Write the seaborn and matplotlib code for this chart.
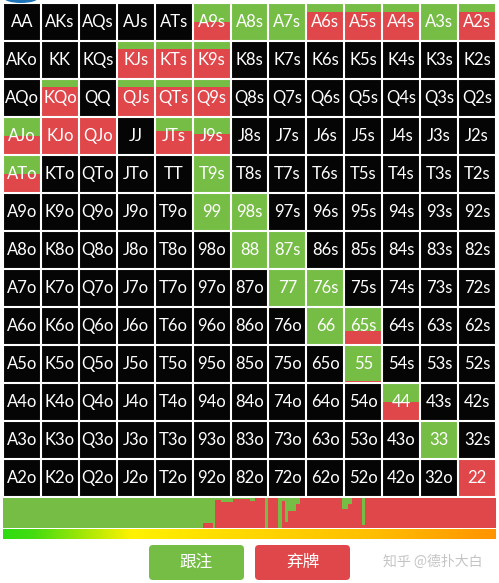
"""
Preflop calling range chart (call / fold split per hand)
"""

import numpy as np
import matplotlib
matplotlib.use('Agg')
import matplotlib.pyplot as plt
from matplotlib.colors import ListedColormap, LinearSegmentedColormap
from matplotlib.patches import FancyBboxPatch, Ellipse
import seaborn as sns

# ---- data ----
ranks = ['A', 'K', 'Q', 'J', 'T', '9', '8', '7', '6', '5', '4', '3', '2']

# call frequency per hand (None = not in range)
N = None
call_freq = [
    [N, N, N, N, N, 0.49, 1.0, 1.0, 0.23, 0.23, 0.23, 1.0, 0.23],
    [N, N, N, 0.22, 0.22, 0.22, N, N, N, N, N, N, N],
    [N, 0.20, N, 0.21, 0.21, 0.21, N, N, N, N, N, N, N],
    [0.50, 0.0, 0.0, N, 0.36, 0.45, N, N, N, N, N, N, N],
    [0.50, N, N, N, N, 1.0, N, N, N, N, N, N, N],
    [N, N, N, N, N, 1.0, 1.0, N, N, N, N, N, N],
    [N, N, N, N, N, N, 1.0, 1.0, N, N, N, N, N],
    [N, N, N, N, N, N, N, 1.0, 1.0, N, N, N, N],
    [N, N, N, N, N, N, N, N, 1.0, 0.64, N, N, N],
    [N, N, N, N, N, N, N, N, N, 0.95, N, N, N],
    [N, N, N, N, N, N, N, N, N, N, 0.50, N, N],
    [N, N, N, N, N, N, N, N, N, N, N, 1.0, N],
    [N, N, N, N, N, N, N, N, N, N, N, N, 0.0],
]

# strategy strip: segment edges in % of combos and call frequency of each segment
strip_edges = [0, 40.6, 42.6, 43.0, 44.2, 46.7, 50.1, 51.1, 53.1, 53.7, 55.8, 56.6,
               57.2, 57.8, 59.4, 60.2, 68.8, 70.0, 70.8, 72.8, 73.4, 100]
strip_call = [1.0, 0.83, 1.0, 0.05, 0.12, 0.02, 0.1, 0.0, 1.0, 0.0, 1.0, 0.1,
              0.8, 0.42, 0.2, 0.0, 0.38, 0.2, 0.0, 0.9, 0.0]

button_labels = ['跟注', '弃牌']
watermark = '知乎 @德扑大白'

GREEN = '#76bd46'
RED = '#e0474b'

sns.set_style('white')
plt.rcParams['font.family'] = ['Lato', 'Noto Sans CJK SC', 'DejaVu Sans']

# hand labels
labels = []
for i, r1 in enumerate(ranks):
    row = []
    for j, r2 in enumerate(ranks):
        if i == j:
            row.append(r1 + r2)
        elif j > i:
            row.append(r1 + r2 + 's')
        else:
            row.append(r2 + r1 + 'o')
    labels.append(row)
labels = np.array(labels)

in_range = np.array([[0 if v is None else 1 for v in row] for row in call_freq])

fig = plt.figure(figsize=(4.99, 5.83), dpi=100)
W, H = 499, 583

# ---- hand grid ----
ax = fig.add_axes([3 / W, (H - 497) / H, 493 / W, 494 / H])
sns.heatmap(
    in_range, ax=ax, cmap=ListedColormap(['#050505', RED]), vmin=0, vmax=1,
    cbar=False, annot=labels, fmt='', linewidths=0,
    annot_kws={'color': 'white', 'fontsize': 12}
)
for i, row in enumerate(call_freq):
    for j, v in enumerate(row):
        if v:
            ax.bar(j + 0.5, v, width=1, bottom=i, color=GREEN, linewidth=0, zorder=1)
ax.hlines(range(14), 0, 13, color='white', linewidth=1.5, zorder=2)
ax.vlines(range(14), 0, 13, color='white', linewidth=1.5, zorder=2)
ax.set_xlim(0, 13)
ax.set_ylim(13, 0)
ax.set_xticks([])
ax.set_yticks([])
ax.set_xlabel('')
ax.set_ylabel('')

# ---- strategy strip ----
ax2 = fig.add_axes([3 / W, (H - 528) / H, 493 / W, 30 / H])
lefts = np.array(strip_edges[:-1])
widths = np.diff(strip_edges)
calls = np.array(strip_call)
ax2.bar(lefts, calls, width=widths, bottom=0, align='edge', color=GREEN, linewidth=0)
ax2.bar(lefts, 1 - calls, width=widths, bottom=calls, align='edge', color=RED, linewidth=0)
ax2.set_xlim(0, 100)
ax2.set_ylim(1, 0)
ax2.axis('off')

# ---- equity gradient ----
ax3 = fig.add_axes([3 / W, (H - 539) / H, 493 / W, 10 / H])
grad_cmap = LinearSegmentedColormap.from_list(
    'eq', [(0, '#2edc10'), (0.06, '#44dc10'), (0.26, '#fff200'),
           (0.45, '#ffdc00'), (0.75, '#ffbe00'), (1, '#ff9400')])
ax3.imshow(np.linspace(0, 1, 256)[None, :], aspect='auto', cmap=grad_cmap,
           extent=[0, 1, 0, 1])
ax3.axis('off')

# ---- buttons / watermark ----
ov = fig.add_axes([0, 0, 1, 1])
ov.set_xlim(0, W)
ov.set_ylim(H, 0)
ov.axis('off')
for x0, color, text in [(149, GREEN, button_labels[0]), (255, RED, button_labels[1])]:
    ov.add_patch(FancyBboxPatch((x0, 545), 95, 35, boxstyle='round,pad=0,rounding_size=4',
                                facecolor=color, edgecolor='none'))
    ov.text(x0 + 47.5, 562, text, color='white', fontsize=12, ha='center', va='center',
            family=['Noto Sans CJK SC', 'DejaVu Sans'])
ov.text(433, 562, watermark, color='#c4c4c4', fontsize=10, ha='center', va='center',
        family=['Noto Sans CJK SC', 'DejaVu Sans'])
ov.add_patch(Ellipse((21, -2), 34, 10, facecolor='#1f74b8', edgecolor='none'))

plt.savefig('out.png', dpi=100)
plt.close()
